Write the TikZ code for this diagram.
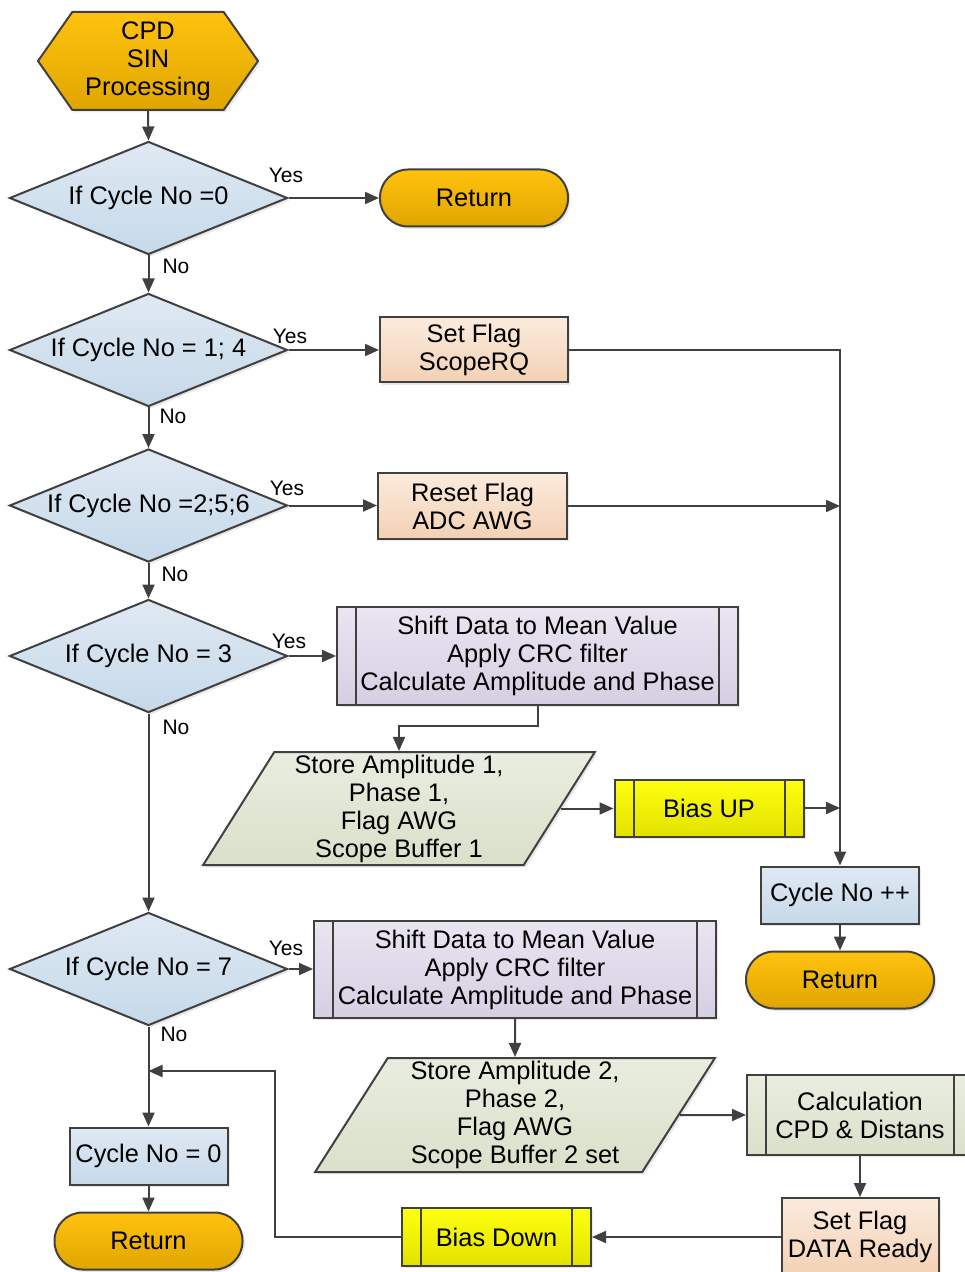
\documentclass[tikz,border=0pt]{standalone}
\usepackage{fontspec}
\setmainfont{Liberation Sans}
\usepackage{xcolor}
\usepackage{tikz}
\usetikzlibrary{shapes.geometric,shapes.symbols,arrows.meta,shadows}

\definecolor{edgegray}{HTML}{404040}
\definecolor{termtop}{HTML}{FFC20E}
\definecolor{termbot}{HTML}{E0A600}
\definecolor{dectop}{HTML}{DFE9F3}
\definecolor{decbot}{HTML}{C6D9E9}
\definecolor{flagtop}{HTML}{FBEBDD}
\definecolor{flagbot}{HTML}{F3D1B4}
\definecolor{proctop}{HTML}{E9E5F1}
\definecolor{procbot}{HTML}{D6CFE3}
\definecolor{iotop}{HTML}{E9EDDF}
\definecolor{iobot}{HTML}{DAE0CA}
\definecolor{biastop}{HTML}{FFFF10}
\definecolor{biasbot}{HTML}{E2E200}

\begin{document}
\begin{tikzpicture}[
  x=0.5pt, y=-0.5pt,
  base/.style={draw=edgegray, line width=1pt, inner sep=0pt, align=center,
    font=\fontsize{12.7}{14}\selectfont,
    drop shadow={shadow xshift=1.2pt, shadow yshift=-1.2pt, opacity=0.18}},
  hexa/.style={base, signal, signal to=west and east, signal pointer angle=110,
    minimum width=110pt, minimum height=49pt, top color=termtop, bottom color=termbot},
  term/.style={base, rectangle, rounded corners=14pt, minimum width=94pt, minimum height=28.5pt,
    top color=termtop, bottom color=termbot},
  decision/.style={base, diamond, aspect=2.46, minimum width=139pt, minimum height=56.5pt,
    top color=dectop, bottom color=decbot},
  cntbox/.style={base, rectangle, minimum width=79pt, minimum height=28.5pt,
    top color=dectop, bottom color=decbot},
  flagbox/.style={base, rectangle, minimum width=94pt, minimum height=32.5pt,
    top color=flagtop, bottom color=flagbot},
  bars/.style={path picture={
    \draw[edgegray, line width=1pt]
      ([xshift=9.5pt]path picture bounding box.north west) -- ([xshift=9.5pt]path picture bounding box.south west)
      ([xshift=-9.5pt]path picture bounding box.north east) -- ([xshift=-9.5pt]path picture bounding box.south east);}},
  subproc/.style={base, rectangle, bars, minimum width=200.5pt, minimum height=49pt,
    top color=proctop, bottom color=procbot},
  biasbox/.style={base, rectangle, bars, minimum width=94.5pt, minimum height=28.5pt,
    top color=biastop, bottom color=biasbot},
  iobox/.style={base, trapezium, trapezium left angle=61, trapezium right angle=119,
    trapezium stretches, top color=iotop, bottom color=iobot},
  yn/.style={font=\fontsize{10.5}{12}\selectfont, inner sep=0pt},
  line/.style={draw=edgegray, line width=1pt},
  arr/.style={line, -{Triangle[length=7pt,width=6pt]}},
]
\useasboundingbox (0,0) rectangle (964,1272);

% left column
\node[hexa] (start) at (148,61) {CPD\\SIN\\Processing};
\node[decision] (d1) at (148.5,198) {If Cycle No =0};
\node[decision] (d2) at (148.5,350) {If Cycle No = 1; 4};
\node[decision] (d3) at (148.5,505.5) {If Cycle No =2;5;6};
\node[decision] (d4) at (148.5,656) {If Cycle No = 3};
\node[decision] (d5) at (148.5,969) {If Cycle No = 7};
\node[cntbox] (c0) at (148.5,1156) {Cycle No = 0};
\node[term] (ret3) at (148.5,1241) {Return};

% yes / no labels
\node[yn] (yes1) at (286,175) {Yes};
\node[yn] (yes2) at (290,336) {Yes};
\node[yn] (yes3) at (287,488) {Yes};
\node[yn] (yes4) at (289,641) {Yes};
\node[yn] (yes5) at (286,948) {Yes};
\node[yn] (no1) at (176,266) {No};
\node[yn] (no2) at (173,416) {No};
\node[yn] (no3) at (175,574) {No};
\node[yn] (no4) at (176,727) {No};
\node[yn] (no5) at (174,1034) {No};

% right side
\node[term] (ret1) at (474,198) {Return};
\node[flagbox] (sf1) at (474,350) {Set Flag\\ScopeRQ};
\node[flagbox, minimum width=94.5pt, minimum height=33pt] (rf) at (472.5,506) {Reset Flag\\ADC AWG};
\node[subproc] (p1) at (537.5,656) {Shift Data to Mean Value\\Apply CRC filter\\Calculate Amplitude and Phase};
\node[iobox, minimum width=196pt, minimum height=56.5pt] (para1) at (399,808.5)
  {Store Amplitude 1,\\Phase 1,\\Flag AWG\\Scope Buffer 1};
\node[biasbox] (bu) at (709,808) {Bias UP};
\node[cntbox] (cinc) at (840,895) {Cycle No ++};
\node[term] (ret2) at (840,980) {Return};

\node[subproc, minimum width=201pt, minimum height=48.5pt] (p2) at (515,969.5)
  {Shift Data to Mean Value\\Apply CRC filter\\Calculate Amplitude and Phase};
\node[iobox, minimum width=200pt, minimum height=57pt] (para2) at (515,1115)
  {Store Amplitude 2,\\Phase 2,\\Flag AWG\\Scope Buffer 2 set};
\node[subproc, minimum width=113pt, minimum height=40pt, top color=iotop, bottom color=iobot] (calc) at (860,1115)
  {Calculation\\CPD \& Distans};
\node[flagbox, minimum width=78.5pt, minimum height=39pt] (sfd) at (860,1237) {Set Flag\\DATA Ready};
\node[biasbox, minimum height=29pt] (bd) at (496.5,1237) {Bias Down};

% connectors
\draw[arr] (start.south) -- (d1.north);
\draw[arr] (d1.south) -- (d2.north);
\draw[arr] (d2.south) -- (d3.north);
\draw[arr] (d3.south) -- (d4.north);
\draw[arr] (d4.south) -- (d5.north);
\draw[arr] (d5.south) -- (c0.north);
\draw[arr] (c0.south) -- (ret3.north);
\draw[arr] (d1.east) -- (ret1.west);
\draw[arr] (d2.east) -- (sf1.west);
\draw[arr] (d3.east) -- (d3.east -| rf.west);
\draw[arr] (d4.east) -- (p1.west);
\draw[arr] (d5.east) -- (d5.east -| p2.west);
\draw[arr] (sf1.east) -| (cinc.north);
\draw[arr] (rf.east) -- (rf.east -| cinc.north);
\draw[arr] (bu.east) -- (bu.east -| cinc.north);
\draw[arr] (cinc.south) -- (ret2.north);
\coordinate (p1turn) at (537.5,726);
\draw[arr] (p1.south) -- (p1turn) -| (para1.north);
\draw[arr] (para1.east) -- (para1.east -| bu.west);
\draw[arr] (p2.south) -- (para2.north);
\draw[arr] (para2.east) -- (calc.west);
\draw[arr] (calc.south) -- (sfd.north);
\draw[arr] (sfd.west) -- (bd.east);
\coordinate (bdturn) at (275,1071);
\draw[arr] (bd.west) -| (bdturn) -- (bdturn -| d5.south);
\end{tikzpicture}
\end{document}
